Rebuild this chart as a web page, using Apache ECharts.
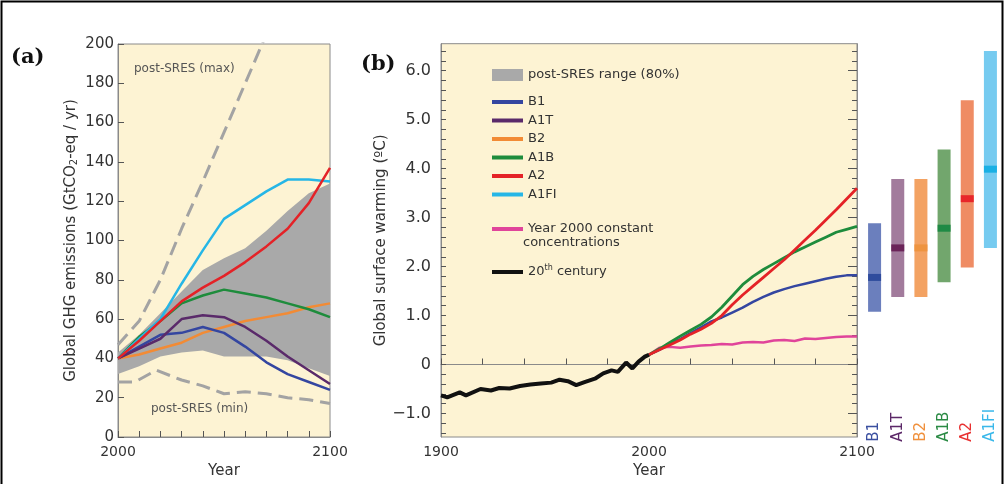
<!DOCTYPE html>
<html><head><meta charset="utf-8">
<script src="https://cdn.jsdelivr.net/npm/echarts@6/dist/echarts.min.js"></script>
<style>html,body{margin:0;padding:0;background:#fff;}#c{width:1005px;height:484px;}</style>
</head><body><div id="c"></div>
<script>
// ---------- Panel (a): emissions ----------
const emYears   = [2000,2010,2020,2030,2040,2050,2060,2070,2080,2090,2100];
const bandLow   = [32,36,41,43,44,41,41,41,39,35,31];
const bandHigh  = [43,52,63,74,85,91,96,105,115,124,129];
const emB1      = [40,46,52,53,56,53,46,38,32,28,24];
const emA1T     = [40,45,50,60,62,61,56,49,41,34,27];
const emB2      = [40,42,45,48,53,56,59,61,63,66,68];
const emA1B     = [40,51,59,68,72,75,73,71,68,65,61];
const emA2      = [40,49,59,69,76,82,89,97,106,119,137];
const emA1FI    = [40,50,60,78,95,111,118,125,131,131,130];
const maxYears  = [2000,2010,2020,2030,2040,2050,2060,2070];
const maxDash   = [47,59,80,106,130,155,180,205];
const minYears  = [2000,2008,2018,2030,2040,2050,2060,2070,2080,2090,2100];
const minDash   = [28,28,34,29,26,22,23,22,20,19,17];
const emTickYears = [2000,2010,2020,2030,2040,2050,2060,2070,2080,2090,2100];
const emYearLabels = [2000,2100];
const emValTicks = [0,20,40,60,80,100,120,140,160,180,200];

// ---------- Panel (b): temperature ----------
const histYears = [1900,1903,1909,1912,1919,1924,1928,1933,1938,1943,1948,1953,1957,1961,1965,1969,1974,1978,1982,1985,1989,1992,1995,1998,2000];
const histTemp  = [-0.63,-0.67,-0.57,-0.63,-0.5,-0.53,-0.48,-0.49,-0.44,-0.41,-0.39,-0.37,-0.31,-0.34,-0.42,-0.36,-0.29,-0.18,-0.12,-0.15,0.04,-0.08,0.06,0.16,0.2];
const projYears = [2000,2005,2010,2015,2020,2025,2030,2035,2040,2045,2050,2055,2060,2065,2070,2075,2080,2085,2090,2095,2100];
const tB1    = [0.2,0.3,0.42,0.52,0.64,0.76,0.88,0.96,1.06,1.16,1.28,1.38,1.47,1.54,1.6,1.65,1.7,1.75,1.79,1.82,1.82];
const tA1B   = [0.2,0.32,0.45,0.58,0.7,0.82,0.97,1.17,1.4,1.63,1.8,1.94,2.06,2.18,2.3,2.4,2.5,2.6,2.7,2.76,2.82];
const tA2    = [0.2,0.3,0.4,0.5,0.62,0.72,0.84,1.0,1.22,1.42,1.6,1.78,1.96,2.14,2.34,2.54,2.74,2.95,3.16,3.38,3.6];
const tConst = [0.2,0.34,0.36,0.34,0.37,0.39,0.4,0.42,0.41,0.45,0.46,0.45,0.49,0.5,0.48,0.53,0.52,0.54,0.56,0.57,0.57];
const tYearTicks = [1900,1920,1940,1960,1980,2000,2020,2040,2060,2080,2100];
const tYearLabels = [1900,2000,2100];
const tMajorTicks = [-1,0,1,2,3,4,5,6];
const tMinorTicks = [-1.4,-1.2,-1,-0.8,-0.6,-0.4,-0.2,0,0.2,0.4,0.6,0.8,1,1.2,1.4,1.6,1.8,2,2.2,2.4,2.6,2.8,3,3.2,3.4,3.6,3.8,4,4.2,4.4,4.6,4.8,5,5.2,5.4,5.6,5.8,6,6.2,6.4];

// ---------- Right: likely ranges at 2090-2099 ----------
const scenarios  = ['B1','A1T','B2','A1B','A2','A1FI'];
const likelyLow  = [1.1,1.4,1.4,1.7,2.0,2.4];
const bestEst    = [1.8,2.4,2.4,2.8,3.4,4.0];
const likelyHigh = [2.9,3.8,3.8,4.4,5.4,6.4];

const col = {B1:'#3446a0', A1T:'#5a2a6a', B2:'#f28b35', A1B:'#1e8c3c', A2:'#e42227', A1FI:'#26b6e6'};
const barLight = ['#6b7fbd','#a27b9c','#f3a262','#72a66d','#ef8c64','#76cbf0'];
const barMed   = ['#2f4c9d','#6b2459','#ee9440','#1f8a45','#e8262a','#1ab0e4'];
const labelCol = ['#3a4fa0','#5c2868','#f0903c','#2a8a44','#e83030','#3ab8ea'];

const FONT = 'DejaVu Sans';
const cream = '#fdf3d3';
const bandGray = '#a9a9a9';
function pairs(xs, ys){ return xs.map((x,i)=>[x, ys[i]]); }
function plain(v){ return String(v); }

function lineA(name, ys, color){
  return {name, type:'line', xAxisIndex:0, yAxisIndex:0, data:pairs(emYears, ys), symbol:'none',
    lineStyle:{color, width:2.5}, itemStyle:{color}, z:3};
}
function lineB(name, xs, ys, color, w){
  return {name, type:'line', xAxisIndex:1, yAxisIndex:1, data:pairs(xs, ys), symbol:'none',
    lineStyle:{color, width:w}, itemStyle:{color}, z:3};
}

const chart = echarts.init(document.getElementById('c'), null, {renderer:'canvas'});
const tickStyle = {color:'#555', width:1};
const option = {
  animation:false,
  backgroundColor:'#fff',
  textStyle:{fontFamily:FONT},
  grid:[
    {left:118, top:44, width:212, height:393, show:true, backgroundColor:cream, borderColor:'#8a8a8a', borderWidth:1},
    {left:441, top:43.7, width:416, height:395.1, show:true, backgroundColor:cream, borderColor:'#8a8a8a', borderWidth:1},
    {left:863, top:43.7, width:139, height:395.1, show:false}
  ],
  xAxis:[
    {gridIndex:0, type:'value', min:2000, max:2100,
      axisLine:{lineStyle:{color:'#8a8a8a'}}, splitLine:{show:false},
      axisTick:{inside:true, length:6, customValues:emTickYears, lineStyle:tickStyle},
      axisLabel:{customValues:emYearLabels, formatter:plain, fontSize:14, color:'#333', margin:8, fontFamily:FONT},
      name:'Year', nameLocation:'middle', nameGap:27, nameTextStyle:{fontSize:15, color:'#333', fontFamily:FONT}},
    {gridIndex:1, type:'value', min:1900, max:2100,
      axisLine:{lineStyle:{color:'#8a8a8a'}}, splitLine:{show:false},
      axisTick:{inside:true, length:6, customValues:tYearTicks, lineStyle:tickStyle},
      axisLabel:{customValues:tYearLabels, formatter:plain, fontSize:14, color:'#333', margin:8, fontFamily:FONT},
      name:'Year', nameLocation:'middle', nameGap:27, nameTextStyle:{fontSize:15, color:'#333', fontFamily:FONT}},
    {gridIndex:2, type:'category', data:scenarios, axisLine:{show:false}, axisTick:{show:false},
      splitLine:{show:false},
      axisLabel:{inside:true, rotate:90, margin:-3, fontSize:15, fontFamily:FONT,
        color:function(v){ return labelCol[scenarios.indexOf(v)]; }}}
  ],
  yAxis:[
    {gridIndex:0, type:'value', min:0, max:200, splitLine:{show:false},
      axisLine:{show:true, lineStyle:{color:'#8a8a8a'}},
      axisTick:{inside:true, length:6, customValues:emValTicks, lineStyle:tickStyle},
      axisLabel:{customValues:emValTicks, formatter:plain, fontSize:15, color:'#333', margin:4, fontFamily:FONT},
      name:'Global GHG emissions (GtCO{sub|2}-eq / yr)', nameLocation:'middle', nameGap:39, nameRotate:90,
      nameTextStyle:{fontSize:15, color:'#333', fontFamily:FONT, rich:{sub:{fontSize:10, verticalAlign:'bottom', padding:[6,0,0,0], fontFamily:FONT, color:'#333'}}}},
    {gridIndex:1, type:'value', min:-1.48, max:6.55, splitLine:{show:false},
      axisLine:{show:true, lineStyle:{color:'#8a8a8a'}},
      axisTick:{inside:true, length:5, customValues:tMinorTicks, lineStyle:tickStyle},
      axisLabel:{customValues:tMajorTicks, fontSize:16, color:'#333', margin:10, fontFamily:FONT,
        formatter:function(v){ if (Math.abs(v) < 1e-9) return '0'; return (v<0?'\u2212':'') + Math.abs(v).toFixed(1); }},
      name:'Global surface warming (\u00baC)', nameLocation:'middle', nameGap:50, nameRotate:90,
      nameTextStyle:{fontSize:15, color:'#333', fontFamily:FONT}},
    {gridIndex:1, type:'value', min:-1.48, max:6.55, splitLine:{show:false}, axisLine:{show:false},
      axisTick:{inside:true, length:9, customValues:tMajorTicks, lineStyle:tickStyle}, axisLabel:{show:false}},
    {gridIndex:1, type:'value', position:'right', min:-1.48, max:6.55, splitLine:{show:false},
      axisLine:{show:true, lineStyle:{color:'#8a8a8a'}},
      axisTick:{inside:true, length:5, customValues:tMinorTicks, lineStyle:tickStyle}, axisLabel:{show:false}},
    {gridIndex:1, type:'value', position:'right', min:-1.48, max:6.55, splitLine:{show:false}, axisLine:{show:false},
      axisTick:{inside:true, length:9, customValues:tMajorTicks, lineStyle:tickStyle}, axisLabel:{show:false}},
    {gridIndex:2, type:'value', min:-1.48, max:6.55, show:false}
  ],
  legend:[
    {left:487, top:63, orient:'vertical', icon:'rect', itemWidth:31, itemHeight:12, selectedMode:false,
      data:['post-SRES range (80%)'], textStyle:{fontSize:13, color:'#333', fontFamily:FONT, lineHeight:14}},
    {left:487, top:90, orient:'vertical', icon:'rect', itemWidth:31, itemHeight:4, itemGap:4.5, selectedMode:false,
      data:scenarios, textStyle:{fontSize:13, color:'#333', fontFamily:FONT, lineHeight:14}},
    {left:487, top:217, orient:'vertical', icon:'rect', itemWidth:31, itemHeight:4, selectedMode:false,
      data:['Year 2000 constant concentrations'], formatter:function(){ return 'Year 2000 constant'; },
      textStyle:{fontSize:13, color:'#333', fontFamily:FONT, lineHeight:14}},
    {left:487, top:259, orient:'vertical', icon:'rect', itemWidth:31, itemHeight:4, selectedMode:false,
      data:['20th century'], formatter:function(){ return '20{sup|th} century'; },
      textStyle:{fontSize:13, color:'#333', fontFamily:FONT, lineHeight:16,
        rich:{sup:{fontSize:8, lineHeight:8, verticalAlign:'top', color:'#333', fontFamily:FONT}}}}
  ],
  graphic:[
    {type:'rect', shape:{x:1.5, y:1.5, width:1001, height:520}, style:{fill:'none', stroke:'#000', lineWidth:2}, silent:true, z:100},
    {type:'text', left:11, top:47, style:{text:'(a)', font:'bold 21px "DejaVu Serif"', fill:'#111'}},
    {type:'text', left:361, top:54, style:{text:'(b)', font:'bold 21px "DejaVu Serif"', fill:'#111'}},
    {type:'text', left:134, top:63, style:{text:'post-SRES (max)', font:'12px "DejaVu Sans"', fill:'#555'}, z:10},
    {type:'text', left:151, top:403, style:{text:'post-SRES (min)', font:'12px "DejaVu Sans"', fill:'#555'}, z:10},
    {type:'text', left:523, top:236, style:{text:'concentrations', font:'13px "DejaVu Sans"', fill:'#333'}, z:10}
  ],
  series:[
    {name:'post-SRES range (80%)', type:'custom', xAxisIndex:0, yAxisIndex:0, silent:true, z:2,
      itemStyle:{color:bandGray},
      data:emYears.map((y,i)=>[y, bandLow[i], bandHigh[i]]),
      encode:{x:0, y:[1,2]},
      renderItem:function(params, api){
        if (params.dataIndex !== 0) return null;
        const pts = [];
        for (let i = 0; i < emYears.length; i++) pts.push(api.coord([emYears[i], bandHigh[i]]));
        for (let i = emYears.length - 1; i >= 0; i--) pts.push(api.coord([emYears[i], bandLow[i]]));
        return {type:'polygon', shape:{points:pts}, style:{fill:bandGray}};
      }},
    {type:'line', xAxisIndex:0, yAxisIndex:0, data:pairs(maxYears, maxDash), symbol:'none',
      lineStyle:{color:'#a3a3a3', width:3, type:[14,7]}, z:3, clip:true},
    {type:'line', xAxisIndex:0, yAxisIndex:0, data:pairs(minYears, minDash), symbol:'none',
      lineStyle:{color:'#a3a3a3', width:3, type:[14,7]}, z:3},
    lineA('B2', emB2, col.B2),
    lineA('B1', emB1, col.B1),
    lineA('A1T', emA1T, col.A1T),
    lineA('A1B', emA1B, col.A1B),
    lineA('A1FI', emA1FI, col.A1FI),
    lineA('A2', emA2, col.A2),
    lineB('Year 2000 constant concentrations', projYears, tConst, '#e0449a', 2.5),
    lineB('B1', projYears, tB1, col.B1, 2.5),
    lineB('A1B', projYears, tA1B, col.A1B, 2.8),
    lineB('A2', projYears, tA2, col.A2, 2.8),
    lineB('20th century', histYears, histTemp, '#111', 4),
    {type:'custom', name:'likely range', xAxisIndex:2, yAxisIndex:5,
      data:scenarios.map((n,i)=>[i, likelyLow[i], bestEst[i], likelyHigh[i]]),
      encode:{x:0, y:[1,2,3]},
      renderItem:function(params, api){
        const i = api.value(0);
        const lo = api.coord([i, api.value(1)]);
        const md = api.coord([i, api.value(2)]);
        const hi = api.coord([i, api.value(3)]);
        const w = 13;
        return {type:'group', children:[
          {type:'rect', shape:{x:lo[0]-w/2, y:hi[1], width:w, height:lo[1]-hi[1]}, style:{fill:barLight[i]}},
          {type:'rect', shape:{x:lo[0]-w/2, y:md[1]-3.5, width:w, height:7}, style:{fill:barMed[i]}}
        ]};
      }}
  ]
};
chart.setOption(option);
</script>
</body></html>
